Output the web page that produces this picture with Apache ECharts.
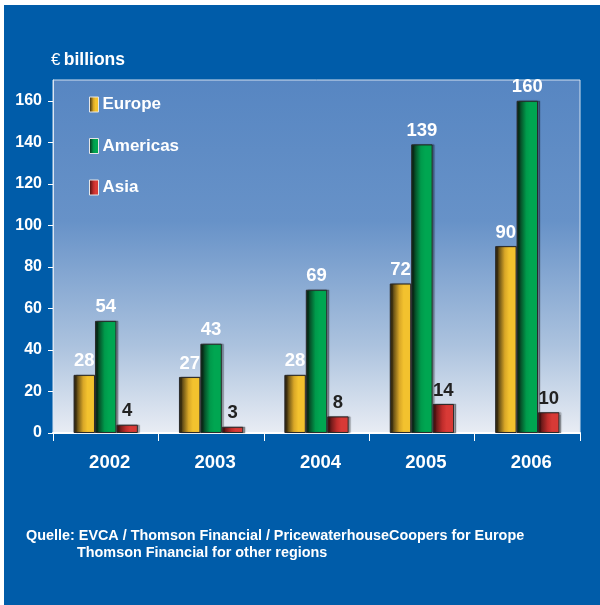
<!DOCTYPE html>
<html>
<head>
<meta charset="utf-8">
<title>Private equity funds raised by region</title>
<script src="https://cdn.jsdelivr.net/npm/echarts@6/dist/echarts.min.js"></script>
<style>
  html, body { margin: 0; padding: 0; background: #ffffff; }
  #chart { width: 600px; height: 605px; }
</style>
</head>
<body>
<div id="chart"></div>
<script>
// Funds raised, € billions
const years = ['2002', '2003', '2004', '2005', '2006'];
const europe = [28, 27, 28, 72, 90];
const americas = [54, 43, 69, 139, 160];
const asia = [4, 3, 8, 14, 10];
const yTicks = [0, 20, 40, 60, 80, 100, 120, 140, 160];

const FONT = '"Liberation Sans", Arial, Helvetica, sans-serif';

function barShade(dark, mid, light) {
  return new echarts.graphic.LinearGradient(0, 0, 1, 0, [
    { offset: 0, color: dark },
    { offset: 0.45, color: mid },
    { offset: 0.65, color: light },
    { offset: 1, color: light }
  ]);
}

function barSeries(name, values, fill, labelColor) {
  return {
    name: name,
    type: 'bar',
    data: values,
    barGap: '0%',
    barCategoryGap: '39%',
    itemStyle: {
      color: fill,
      borderColor: '#2a2a2a',
      borderWidth: 1,
      shadowColor: 'rgba(0,0,0,0.3)',
      shadowOffsetX: 2,
      shadowBlur: 1
    },
    label: {
      show: true,
      position: 'top',
      distance: 4,
      color: labelColor,
      fontFamily: FONT,
      fontWeight: 'bold',
      fontSize: 18.5
    }
  };
}

const chart = echarts.init(document.getElementById('chart'), null, { renderer: 'canvas' });

chart.setOption({
  backgroundColor: '#ffffff',
  animation: false,
  graphic: [
    {
      type: 'rect',
      z: -10,
      silent: true,
      shape: { x: 4, y: 5, width: 596, height: 600 },
      style: { fill: '#005ca9' }
    },
    {
      type: 'text',
      left: 51,
      top: 51,
      style: {
        text: '{e|€} {b|billions}',
        rich: {
          e: { fill: '#ffffff', fontFamily: FONT, fontSize: 17, fontWeight: 'normal' },
          b: { fill: '#ffffff', fontFamily: FONT, fontSize: 17.5, fontWeight: 'bold' }
        }
      }
    },
    {
      type: 'text',
      left: 26,
      top: 529,
      style: {
        text: 'Quelle: EVCA / Thomson Financial / PricewaterhouseCoopers for Europe',
        fill: '#ffffff',
        fontFamily: FONT,
        fontSize: 14.4,
        fontWeight: 'bold'
      }
    },
    {
      type: 'text',
      left: 77,
      top: 546,
      style: {
        text: 'Thomson Financial for other regions',
        fill: '#ffffff',
        fontFamily: FONT,
        fontSize: 14.4,
        fontWeight: 'bold'
      }
    }
  ],
  legend: {
    orient: 'vertical',
    left: 84,
    top: 91,
    itemWidth: 9,
    itemHeight: 15,
    itemGap: 24.5,
    icon: 'rect',
    itemStyle: { borderColor: '#e6e6e6', borderWidth: 1, shadowBlur: 0, shadowOffsetX: 0 },
    textStyle: {
      color: '#ffffff',
      fontFamily: FONT,
      fontWeight: 'bold',
      fontSize: 17,
      padding: [0, 0, 0, -1]
    },
    data: ['Europe', 'Americas', 'Asia']
  },
  grid: {
    left: 53,
    right: 20,
    top: 80,
    bottom: 172,
    show: true,
    borderColor: '#d4e0ef',
    borderWidth: 1,
    backgroundColor: new echarts.graphic.LinearGradient(0, 0, 0, 1, [
      { offset: 0, color: '#5786c2' },
      { offset: 0.4, color: '#6792c8' },
      { offset: 0.75, color: '#abc2de' },
      { offset: 1, color: '#e9edf4' }
    ])
  },
  xAxis: {
    type: 'category',
    data: years,
    axisLine: { show: true, lineStyle: { color: '#ffffff', width: 2 } },
    axisTick: { show: true, length: 8, lineStyle: { color: '#ffffff', width: 1 } },
    axisLabel: {
      color: '#ffffff',
      fontFamily: FONT,
      fontWeight: 'bold',
      fontSize: 18.5,
      margin: 20,
      padding: [0, 0, 0, 8]
    },
    splitLine: { show: false }
  },
  yAxis: {
    type: 'value',
    min: 0,
    max: 170,
    interval: 10,
    axisLine: { show: true, lineStyle: { color: '#dbe5f2', width: 1 } },
    axisTick: {
      show: true,
      length: 5,
      customValues: yTicks,
      lineStyle: { color: '#ffffff', width: 1 }
    },
    axisLabel: {
      customValues: yTicks,
      color: '#ffffff',
      fontFamily: FONT,
      fontWeight: 'bold',
      fontSize: 16,
      margin: 11
    },
    splitLine: { show: false }
  },
  series: [
    barSeries('Europe', europe, barShade('#1c160c', '#d9a727', '#f3c22e'), '#ffffff'),
    barSeries('Americas', americas, barShade('#0c1a10', '#009a4b', '#00a651'), '#ffffff'),
    barSeries('Asia', asia, barShade('#3a0e0e', '#c02d2b', '#d83a36'), '#222222')
  ]
});
</script>
</body>
</html>
